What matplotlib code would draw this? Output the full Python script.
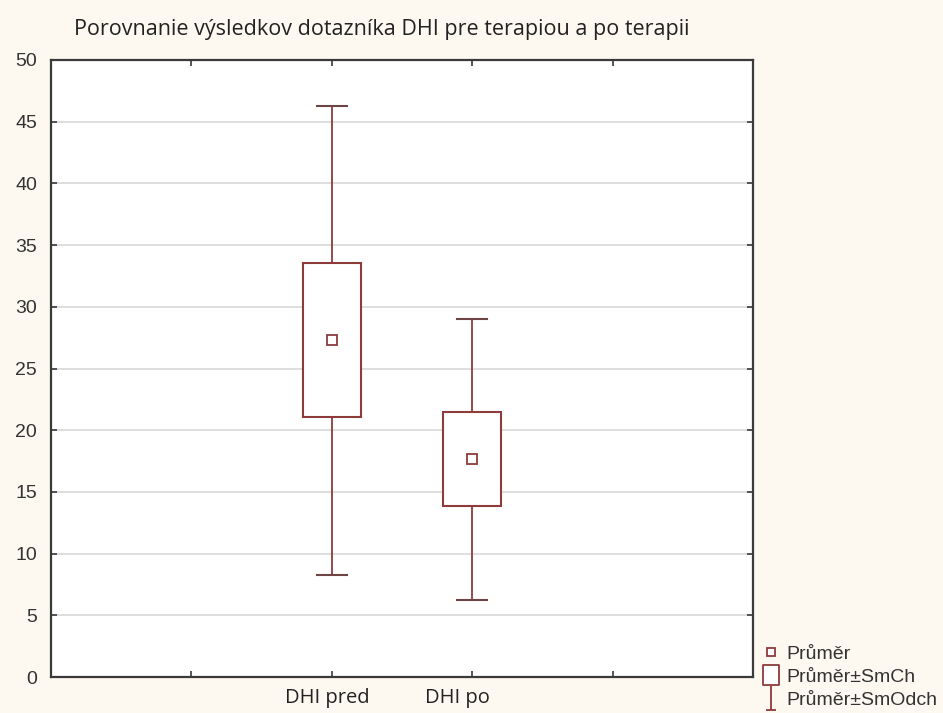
import matplotlib
matplotlib.use('Agg')
import matplotlib.pyplot as plt
from matplotlib.lines import Line2D
from matplotlib.patches import Rectangle
from matplotlib.path import Path
from matplotlib.transforms import ScaledTranslation

# --- Data ---
categories = ['DHI pred', 'DHI po']
means = [27.3, 17.65]
std_err = [6.25, 3.8]      # box: mean +- SmCh
std_dev = [19.0, 11.4]     # whiskers: mean +- SmOdch
legend_labels = ['Průměr', 'Průměr±SmCh', 'Průměr±SmOdch']
title = 'Porovnanie výsledkov dotazníka DHI pre terapiou a po terapii'

# --- Style ---
RED = '#8E3B3B'
CAP = '#6E4545'
SPINE = '#3A3A3A'
BG = '#FDF9F1'

fig = plt.figure(figsize=(9.43, 7.13), dpi=100, facecolor=BG)
ax = fig.add_axes([51 / 943, 36 / 713, 702 / 943, 617 / 713])
ax.set_facecolor('white')

positions = [2, 3]
box_w = 0.41
cap_w = 0.21

for x, m, se, sd in zip(positions, means, std_err, std_dev):
    # whiskers
    ax.plot([x, x], [m + se, m + sd], color=RED, lw=1.3, zorder=3)
    ax.plot([x, x], [m - sd, m - se], color=RED, lw=1.3, zorder=3)
    ax.plot([x - cap_w / 2, x + cap_w / 2], [m + sd] * 2, color=CAP, lw=1.5, zorder=3)
    ax.plot([x - cap_w / 2, x + cap_w / 2], [m - sd] * 2, color=CAP, lw=1.5, zorder=3)
    # box
    ax.add_patch(Rectangle((x - box_w / 2, m - se), box_w, 2 * se, facecolor='white',
                           edgecolor=RED, lw=1.5, zorder=3))
    # mean
    ax.plot([x], [m], marker='s', ms=7, mfc='white', mec=RED, mew=1.3, zorder=4)

ax.set_xlim(0, 5)
ax.set_ylim(0, 50)
ax.set_yticks(range(0, 51, 5))
ax.set_xticks([1, 2, 3, 4])
ax.set_xticklabels([''] + categories + [''], fontfamily='Open Sans', fontsize=14.5,
                   color='#222222')
ax.grid(True, axis='y', color='#D8D8D8', lw=1.2)
ax.set_axisbelow(True)

ax.tick_params(axis='both', direction='in', length=4, width=1.2, color=SPINE,
               top=True, right=True)
ax.tick_params(axis='y', labelsize=14, labelcolor='#333333', pad=10)
ax.tick_params(axis='x', pad=8)
for lab in ax.get_yticklabels():
    lab.set_fontfamily('Liberation Sans')

shift = ScaledTranslation(-47 / 100, 0, fig.dpi_scale_trans)
for lab in ax.get_xticklabels():
    lab.set_ha('left')
    lab.set_transform(lab.get_transform() + shift)

for s in ax.spines.values():
    s.set_color(SPINE)
    s.set_linewidth(1.6)

fig.text(382 / 943, 1 - 30 / 713, title, ha='center', va='center',
         fontfamily='Open Sans', fontsize=15.5, color='#222222')

# --- Legend ---
rect_path = Path([(-0.375, -0.5), (0.375, -0.5), (0.375, 0.5), (-0.375, 0.5), (-0.375, -0.5)],
                 [Path.MOVETO, Path.LINETO, Path.LINETO, Path.LINETO, Path.CLOSEPOLY])
whisker_path = Path([(0, 1), (0, -1), (-0.4, -1), (0.4, -1)],
                    [Path.MOVETO, Path.LINETO, Path.MOVETO, Path.LINETO])
handles = [
    Line2D([], [], ls='', marker='s', ms=5.5, mfc='white', mec=RED, mew=1.3),
    Line2D([], [], ls='', marker=rect_path, ms=15, mfc='white', mec=RED, mew=1.3),
    Line2D([], [], ls='', marker=whisker_path, ms=17, mec=RED, mew=1.3),
]
fig.legend(handles, legend_labels, loc='lower left',
           bbox_to_anchor=(761 / 943, 4 / 713), frameon=False,
           prop={'family': 'Liberation Sans', 'size': 14},
           handlelength=1.0, handletextpad=0.3, labelspacing=0.27,
           borderaxespad=0.0, borderpad=0.0, labelcolor='#333333')

fig.savefig('out.png', dpi=100, facecolor=fig.get_facecolor())
